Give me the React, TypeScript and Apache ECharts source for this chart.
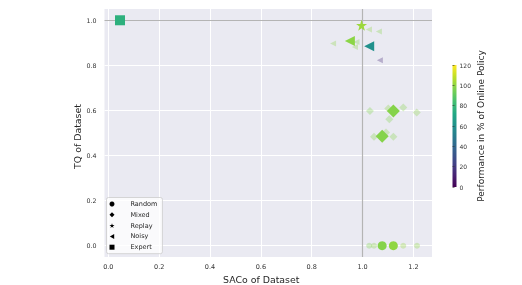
import React, { useEffect, useRef } from "react";
import * as echarts from "echarts";

// ---- data (SACo, TQ, performance %) ----
const randomMeanSaco = [1.077, 1.121];
const randomMeanTq = [0, 0];
const randomMeanPerf = [98, 100];
const randomRunSaco = [1.026, 1.045, 1.16, 1.214];
const randomRunTq = [0, 0, 0, 0];
const randomRunPerf = [97, 99, 101, 100];

const mixedMeanSaco = [1.121, 1.077];
const mixedMeanTq = [0.598, 0.486];
const mixedMeanPerf = [98, 98];
const mixedRunSaco = [1.029, 1.101, 1.16, 1.213, 1.105, 1.045, 1.092, 1.121];
const mixedRunTq = [0.598, 0.609, 0.613, 0.591, 0.561, 0.483, 0.502, 0.483];
const mixedRunPerf = [97, 99, 98, 99, 97, 98, 99, 98];

const replayMeanSaco = [0.996];
const replayMeanTq = [0.978];
const replayMeanPerf = [102];

const noisyMeanSaco = [0.95, 1.026];
const noisyMeanTq = [0.908, 0.885];
const noisyMeanPerf = [99, 60];
const noisyRunSaco = [1.025, 1.064, 0.884, 0.976, 0.97, 1.068];
const noisyRunTq = [0.959, 0.95, 0.897, 0.904, 0.882, 0.823];
const noisyRunPerf = [100, 98, 99, 97, 99, 15];

const expertSaco = [0.046];
const expertTq = [1.0];
const expertPerf = [76];

const legendNames = ["Random", "Mixed", "Replay", "Noisy", "Expert"];
const xTicks = [0, 0.2, 0.4, 0.6, 0.8, 1.0, 1.2];
const yTicks = [0, 0.2, 0.4, 0.6, 0.8, 1.0];
const perfMin = 0;
const perfMax = 120;
const perfStep = 20;
const refSaco = 1.0;
const refTq = 1.0;

const VIRIDIS = ["#440154", "#482475", "#414487", "#355f8d", "#2a788e", "#21918c", "#22a884", "#44bf70", "#7ad151", "#bddf26", "#fde725"];
const STAR = "path://M50,0 L61.2,34.5 L97.6,34.5 L68.2,55.9 L79.4,90.5 L50,69.1 L20.6,90.5 L31.8,55.9 L2.4,34.5 L38.8,34.5 Z";
const LEFT_TRI = "path://M0,50 L86.6,0 L86.6,100 Z";
const FONT = "DejaVu Sans";

const zip = (a: number[], b: number[], c: number[]) => a.map((v, i) => [v, b[i], c[i]]);

export default function App() {
  const ref = useRef<HTMLDivElement>(null);
  useEffect(() => {
    document.body.style.margin = "0";
    const chart = echarts.init(ref.current!, null, { renderer: "svg" });
    const symbols: Record<string, any> = {
      Random: { symbol: "circle", rot: 0, big: 9, small: 6, icon: "circle" },
      Mixed: { symbol: "diamond", rot: 0, big: 13, small: 8, icon: "diamond" },
      Replay: { symbol: STAR, rot: 0, big: 11, small: 6, icon: STAR },
      Noisy: { symbol: "triangle", rot: 90, big: 10, small: 6, icon: LEFT_TRI },
      Expert: { symbol: "rect", rot: 0, big: 10, small: 6, icon: "rect" },
    };
    const mk = (name: string, data: number[][], big: boolean) => ({
      type: "scatter",
      name: big ? name : name + " runs",
      data,
      symbol: symbols[name].symbol,
      symbolRotate: symbols[name].rot,
      symbolSize: big ? symbols[name].big : symbols[name].small,
      itemStyle: { opacity: big ? 1 : 0.32 },
      z: big ? 4 : 3,
      silent: true,
    });
    const scatter = [
      mk("Random", zip(randomRunSaco, randomRunTq, randomRunPerf), false),
      mk("Mixed", zip(mixedRunSaco, mixedRunTq, mixedRunPerf), false),
      mk("Noisy", zip(noisyRunSaco, noisyRunTq, noisyRunPerf), false),
      mk("Random", zip(randomMeanSaco, randomMeanTq, randomMeanPerf), true),
      mk("Mixed", zip(mixedMeanSaco, mixedMeanTq, mixedMeanPerf), true),
      mk("Replay", zip(replayMeanSaco, replayMeanTq, replayMeanPerf), true),
      mk("Noisy", zip(noisyMeanSaco, noisyMeanTq, noisyMeanPerf), true),
      mk("Expert", zip(expertSaco, expertTq, expertPerf), true),
    ];

    chart.setOption({
      animation: false,
      textStyle: { fontFamily: FONT },
      grid: [
        { left: 104.5, right: 90, top: 9, bottom: 28, show: true, backgroundColor: "#EAEAF2", borderWidth: 0, containLabel: false, outerBoundsMode: "none" },
        { left: 452.5, top: 65, width: 4, height: 122, show: false, containLabel: false, outerBoundsMode: "none" },
      ],
      xAxis: [
        {
          type: "value",
          min: -0.015,
          max: 1.273,
          name: "SACo of Dataset",
          nameLocation: "middle",
          nameGap: 15,
          nameTextStyle: { fontSize: 9.4, color: "#262626", fontFamily: FONT, padding: [0, 14, 0, 0] },
          axisLine: { show: false },
          axisTick: { show: false, customValues: xTicks },
          axisLabel: { customValues: xTicks, fontSize: 6.5, color: "#333", margin: 6, formatter: (v: number) => v.toFixed(1), fontFamily: FONT },
          splitLine: { show: true, lineStyle: { color: "#ffffff", width: 1 } },
        },
        { gridIndex: 1, type: "value", show: false, min: 0, max: 1 },
      ],
      yAxis: [
        {
          type: "value",
          min: -0.05,
          max: 1.05,
          name: "TQ of Dataset",
          nameLocation: "middle",
          nameGap: 23,
          nameMoveOverlap: false,
          nameTextStyle: { fontSize: 9.4, color: "#262626", fontFamily: FONT, padding: [0, 7, 0, 0] },
          axisLine: { show: false },
          axisTick: { show: false, customValues: yTicks },
          axisLabel: { customValues: yTicks, fontSize: 6.3, color: "#333", margin: 8, formatter: (v: number) => v.toFixed(1), fontFamily: FONT },
          splitLine: { show: true, lineStyle: { color: "#ffffff", width: 1 } },
        },
        {
          gridIndex: 1,
          type: "value",
          position: "right",
          min: perfMin,
          max: perfMax,
          interval: perfStep,
          name: "Performance in % of Online Policy",
          nameLocation: "middle",
          nameRotate: 90,
          nameGap: 20,
          nameTextStyle: { fontSize: 9, color: "#262626", fontFamily: FONT },
          axisLine: { show: false },
          axisTick: { show: true, length: 2, lineStyle: { color: "#333", width: 0.6 } },
          axisLabel: { fontSize: 6, color: "#333", margin: 3, fontFamily: FONT },
          splitLine: { show: false },
        },
      ],
      visualMap: {
        show: false,
        type: "continuous",
        min: perfMin,
        max: perfMax,
        dimension: 2,
        seriesIndex: scatter.map((_, i) => i),
        inRange: { color: VIRIDIS },
      },
      legend: {
        orient: "vertical",
        left: 106.5,
        top: 197.5,
        padding: [2.5, 5, 2.5, 3],
        itemWidth: 5,
        itemHeight: 5,
        itemGap: 2.8,
        backgroundColor: "rgba(255,255,255,0.75)",
        borderColor: "#cccccc",
        borderWidth: 0.8,
        borderRadius: 2,
        textStyle: { fontSize: 6.5, color: "#262626", lineHeight: 8, padding: [0, 0, 0, 11], fontFamily: FONT },
        data: legendNames.map((n) => ({ name: n, icon: symbols[n].icon, itemStyle: { color: "#000", opacity: 1 } })),
      },
      graphic: [
        {
          type: "rect",
          shape: { x: 452.5, y: 65, width: 4, height: 122 },
          style: {
            fill: new echarts.graphic.LinearGradient(0, 1, 0, 0, VIRIDIS.map((c, i) => ({ offset: i / (VIRIDIS.length - 1), color: c }))),
          },
          silent: true,
        },
      ],
      series: [
        ...scatter,
        {
          type: "scatter",
          name: "ref",
          data: [],
          silent: true,
          markLine: {
            silent: true,
            symbol: "none",
            z: 2,
            label: { show: false },
            lineStyle: { color: "#b4b4b4", width: 1.2, type: "solid" },
            data: [{ xAxis: refSaco }, { yAxis: refTq }],
          },
        },
      ],
    });
    return () => chart.dispose();
  }, []);
  return <div ref={ref} style={{ position: "fixed", left: 0, top: 0, width: 522, height: 285 }} />;
}
